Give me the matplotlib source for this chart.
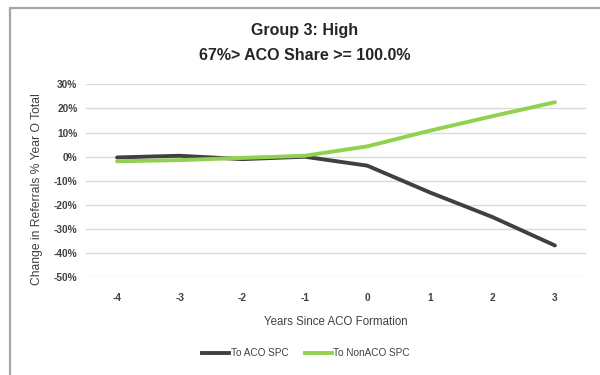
import matplotlib
matplotlib.use("Agg")
import matplotlib.pyplot as plt
from matplotlib.lines import Line2D
from matplotlib.patches import Rectangle

years = [-4, -3, -2, -1, 0, 1, 2, 3]
to_aco_spc = [-0.3, 0.4, -1.0, 0.0, -3.7, -14.8, -25.0, -36.8]
to_non_aco_spc = [-1.9, -1.4, -0.5, 0.4, 4.3, 10.8, 16.8, 22.6]
y_ticks = [30, 20, 10, 0, -10, -20, -30, -40, -50]

plt.rcParams['font.family'] = ['Liberation Sans', 'DejaVu Sans']

fig = plt.figure(figsize=(6, 3.75), dpi=100)
ax = fig.add_axes([0.143, 0.2605, 0.834, 0.5145])

ax.plot(years, to_aco_spc, color='#404040', lw=2.8, solid_capstyle='round',
        label='To ACO SPC')
ax.plot(years, to_non_aco_spc, color='#92d050', lw=2.8, solid_capstyle='round',
        label='To NonACO SPC')

ax.set_xlim(-4.5, 3.5)
ax.set_ylim(-50, 30)
ax.set_yticks(y_ticks)
ax.set_yticklabels([f"{v}%" for v in y_ticks])
ax.set_xticks(years)
ax.set_xticklabels([str(v) for v in years])
ax.yaxis.grid(True, color='#d9d9d9', lw=1)
ax.set_axisbelow(True)
for s in ax.spines.values():
    s.set_visible(False)
ax.tick_params(length=0, labelsize=7.3, colors='#404040', pad=6)
for lbl in ax.get_xticklabels() + ax.get_yticklabels():
    lbl.set_fontweight('bold')
ax.tick_params(axis='x', pad=11)

ax.set_xlabel('Years Since ACO Formation', fontsize=8.3, color='#404040', labelpad=10)
ax.set_ylabel('Change in Referrals % Year O Total', fontsize=8.7, color='#404040')
ax.yaxis.set_label_coords(-0.086, 0.455)

fig.text(0.508, 0.92, 'Group 3: High', ha='center', va='center',
         fontsize=11.5, fontweight='bold', color='#262626')
fig.text(0.508, 0.853, '67%> ACO Share >= 100.0%', ha='center', va='center',
         fontsize=11.5, fontweight='bold', color='#262626')

handles = [Line2D([], [], color='#404040', lw=2.8),
           Line2D([], [], color='#92d050', lw=2.8)]
fig.legend(handles, ['To ACO SPC', 'To NonACO SPC'], loc='center',
           bbox_to_anchor=(0.51, 0.058), ncol=2, frameon=False, fontsize=7.2,
           handlelength=2.7, handletextpad=0.15, columnspacing=1.6,
           labelcolor='#404040')

# outer chart frame (top and left edges visible)
fig.add_artist(Rectangle((10 / 600, -0.1), 1.2, 1 - 8 / 375 + 0.1,
                         transform=fig.transFigure, fill=False,
                         edgecolor='#a6a6a6', lw=1.6))

fig.savefig('out.png', dpi=100)
